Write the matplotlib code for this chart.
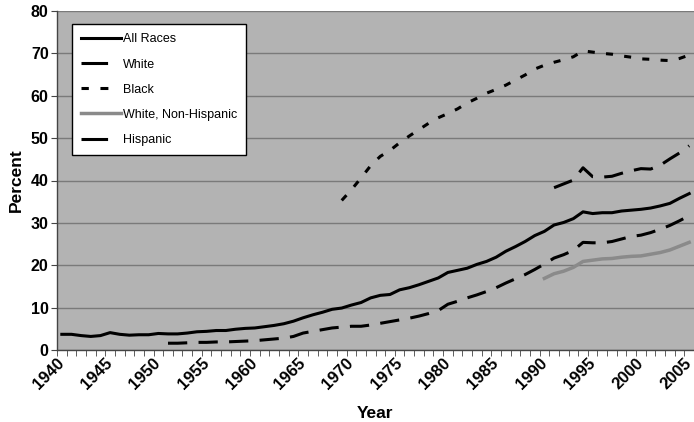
import numpy as np
import matplotlib.pyplot as plt
from matplotlib.lines import Line2D

plt.rcParams['font.family'] = ['Liberation Sans', 'DejaVu Sans']

# Percent of births to unmarried women, by race/ethnicity of mother
years_all = np.arange(1940, 2006)
all_races = [3.7, 3.7, 3.4, 3.2, 3.4, 4.1, 3.7, 3.5, 3.6, 3.6,
             3.9, 3.8, 3.8, 4.0, 4.3, 4.4, 4.6, 4.6, 4.9, 5.1,
             5.2, 5.5, 5.8, 6.2, 6.8, 7.6, 8.3, 8.9, 9.6, 9.9,
             10.6, 11.2, 12.3, 12.9, 13.1, 14.2, 14.7, 15.4, 16.2, 17.0,
             18.3, 18.8, 19.3, 20.2, 20.9, 21.9, 23.3, 24.4, 25.6, 27.0,
             28.0, 29.5, 30.1, 31.0, 32.6, 32.2, 32.4, 32.4, 32.8, 33.0,
             33.2, 33.5, 34.0, 34.6, 35.8, 36.9]

years_white = np.arange(1951, 2006)
white = [1.6, 1.6, 1.7, 1.8, 1.8, 1.9, 1.9, 2.0, 2.1,
         2.2, 2.4, 2.6, 2.8, 3.2, 4.0, 4.4, 4.8, 5.2, 5.4,
         5.6, 5.6, 5.9, 6.3, 6.7, 7.1, 7.5, 8.0, 8.6, 9.3,
         10.8, 11.5, 12.3, 13.0, 13.8, 14.7, 15.8, 16.8, 17.8, 19.0,
         20.3, 21.7, 22.5, 23.5, 25.4, 25.3, 25.3, 25.6, 26.2, 26.8,
         27.1, 27.7, 28.5, 29.4, 30.5, 31.7]

years_black = np.arange(1969, 2006)
black = [35.3,
         37.8, 40.6, 43.5, 45.7, 47.1, 48.9, 50.5, 52.0, 53.5, 54.8,
         55.8, 56.9, 58.3, 59.4, 60.6, 61.5, 62.5, 63.7, 64.9, 66.3,
         67.2, 67.9, 68.5, 69.2, 70.6, 70.3, 70.0, 69.8, 69.4, 69.1,
         68.7, 68.6, 68.4, 68.3, 68.8, 69.6]

years_wnh = np.arange(1990, 2006)
white_non_hispanic = [16.9, 18.0, 18.6, 19.5, 20.9, 21.2, 21.5, 21.6, 21.9, 22.1,
                      22.2, 22.6, 23.0, 23.6, 24.5, 25.4]

years_hisp = np.arange(1991, 2006)
hispanic = [38.3, 39.2, 40.1, 43.0, 40.9, 40.8, 41.0, 41.7, 42.3,
            42.8, 42.7, 43.6, 45.1, 46.5, 48.2]

labels = ['All Races', 'White', 'Black', 'White, Non-Hispanic', 'Hispanic']

fig = plt.figure(figsize=(6.94, 4.22), dpi=100)
ax = fig.add_axes([57 / 694, 72 / 422, 637 / 694, 339 / 422])
ax.set_facecolor('#b3b3b3')

lw = 2.2
gray = '#8a8a8a'
long_dash = (0, (6.3, 3.7))
short_dash = (0, (2.3, 3.7))

ax.plot(years_all, all_races, color='black', lw=lw)
ax.plot(years_white, white, color='black', lw=lw, ls=long_dash, dash_capstyle='butt')
ax.plot(years_black, black, color='black', lw=lw, ls=short_dash, dash_capstyle='butt')
ax.plot(years_wnh, white_non_hispanic, color=gray, lw=2.5)
ax.plot(years_hisp, hispanic, color='black', lw=lw, ls=long_dash, dash_capstyle='butt')

ax.set_xlim(1939.5, 2005.5)
ax.set_ylim(0, 80)

ax.set_yticks(np.arange(0, 81, 10))
ax.yaxis.grid(True, color='#7a7a7a', lw=1.0)
ax.set_axisbelow(True)

ax.set_xticks(np.arange(1940, 2006, 5))
ax.set_xticks(np.arange(1939.5, 2006, 1), minor=True)
ax.tick_params(axis='x', which='major', length=0, pad=8)
ax.tick_params(axis='x', which='minor', length=4, color='#444444', direction='out')
ax.tick_params(axis='y', length=4, color='#444444', pad=2)
for lab in ax.get_xticklabels():
    lab.set_rotation(45)
    lab.set_ha('right')
    lab.set_va('center')
    lab.set_rotation_mode('anchor')
    lab.set_fontsize(12)
    lab.set_fontweight('bold')
for lab in ax.get_yticklabels():
    lab.set_fontsize(11.5)
    lab.set_fontweight('bold')

for side in ['top', 'right']:
    ax.spines[side].set_visible(False)
for side in ['left', 'bottom']:
    ax.spines[side].set_color('#444444')
    ax.spines[side].set_linewidth(1.0)

ax.set_xlabel('Year', fontsize=12.5, fontweight='bold', labelpad=10)
ax.set_ylabel('Percent', fontsize=12.5, fontweight='bold', labelpad=5)

# legend keys: the dashed keys show one long dash / two short dashes
handles = [
    Line2D([], [], color='black', lw=lw),
    Line2D([], [], color='black', lw=lw, ls=(0, (8.7, 10)), dash_capstyle='butt'),
    Line2D([], [], color='black', lw=lw, ls=(0, (2.4, 3.8, 2.6, 10)), dash_capstyle='butt'),
    Line2D([], [], color=gray, lw=2.5),
    Line2D([], [], color='black', lw=lw, ls=(0, (8.7, 10)), dash_capstyle='butt'),
]
leg = ax.legend(handles, labels, loc='upper left',
                bbox_to_anchor=(15 / 637, 326 / 339),
                fontsize=9, frameon=True, fancybox=False, framealpha=1,
                edgecolor='black', handlelength=3.2, handletextpad=0.1,
                labelspacing=1.05, borderpad=0.75, borderaxespad=0)
leg.get_frame().set_linewidth(1.0)

fig.savefig('out.png', dpi=100)
